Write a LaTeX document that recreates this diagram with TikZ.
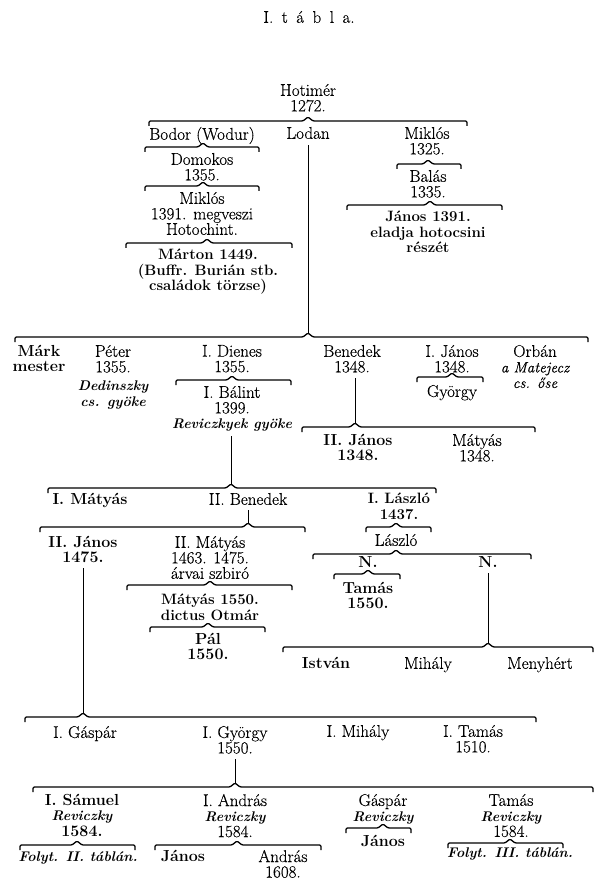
\documentclass[tikz,border=0pt]{standalone}
\usepackage{fontspec}
\newfontfamily\medfam{Latin Modern Roman}[FakeBold=0.35]
% family bracket: name of peak, y, left x, right x, peak x
\newcommand\famline[5]{%
  \draw[brace] (#3,#2+5) -- (#3,#2) -- (#5-5,#2) -- (#5,#2-4)
    -- (#5+5,#2) -- (#4,#2) -- (#4,#2+5);
  \coordinate (#1) at (#5,#2-4);}
\newcommand\itb[1]{{\rmfamily\fontsize{14}{15}\selectfont\bfseries\itshape #1}}
\newcommand\itl[1]{{\fontsize{15}{15}\selectfont\itshape #1}}
\begin{document}
\begin{tikzpicture}[x=1pt, y=-1pt, line width=1pt,
    brace/.style={rounded corners=1.2pt, line width=1.3pt},
    nm/.style={anchor=north, yshift=6.5pt, inner sep=0pt, align=center,
      font=\medfam\fontsize{17}{15.5}\selectfont},
    bnm/.style={nm, font=\rmfamily\fontsize{16}{15.5}\selectfont\bfseries},
    bsm/.style={nm, font=\rmfamily\fontsize{15}{15.5}\selectfont\bfseries}]
\path[fill=white] (0,0) rectangle (608,890);

% title
\node[nm] (title) at (309,17) {I.\hspace{0.5em}t\hspace{0.5em}á\hspace{0.5em}b\hspace{0.5em}l\hspace{0.5em}a.};

% Hotimér and sons
\node[nm] (hotimer) at (308,90) {Hotimér\\1272.};
\famline{kHotimer}{121}{149}{467}{308}
\node[nm] (bodor) at (202,133) {Bodor (Wodur)};
\node[nm] (lodan) at (308,133) {Lodan};
\node[nm] (miklosA) at (427,133) {Miklós\\1325.};

% Bodor branch
\famline{kBodor}{147}{145}{259}{203}
\node[nm] (domokos) at (202,159) {Domokos\\1355.};
\famline{kDomokos}{186}{145}{259}{203}
\node[nm] (miklosB) at (202,198) {Miklós\\1391. megveszi\\Hotochint.};
\famline{kMiklosB}{243}{126}{292}{207}
\node[bsm] (marton) at (208,255) {Márton 1449.\\(Buffr. Burián stb.\\családok törzse)};

% Miklós 1325 branch
\famline{kMiklosA}{164}{397}{461}{428}
\node[nm] (balas) at (428,176) {Balás\\1335.};
\famline{kBalas}{205}{347}{502}{430}
\node[bsm] (janosA) at (428,217) {János 1391.\\eladja hotocsini\\részét};

% Lodan's line
\famline{kLodan}{337}{15}{588}{308}
\draw ([yshift=-6pt]kLodan |- lodan.south) -- (kLodan);
\node[bnm] (mark) at (39,351) {Márk\\mester};
\node[nm] (peter) at (113,351) {Péter\\1355.\\[3pt]\itb{Dedinszky}\\\itb{cs. gyöke}};
\node[nm] (dienes) at (232,351) {I. Dienes\\1355.};
\famline{kDienes}{380}{176}{291}{232}
\node[nm] (balint) at (232,392) {I. Bálint\\1399.\\\itb{Reviczkyek gyöke}};
\node[nm] (benedekA) at (352,351) {Benedek\\1348.};
\node[nm] (janosI) at (452,351) {I. János\\1348.};
\famline{kJanosI}{377}{417}{483}{452}
\node[nm] (gyorgyA) at (452,391) {György};
\node[nm] (orban) at (535,351) {Orbán\\\itl{a Matejecz}\\\itl{cs. őse}};
\famline{kBenedekA}{427}{302}{535}{355}
\draw ([yshift=-5pt]kBenedekA |- benedekA.south) -- (kBenedekA);
\node[bnm] (janosII) at (358,440) {II. János\\1348.};
\node[nm] (matyasA) at (477,440) {Mátyás\\1348.};

% I. Bálint's sons
\famline{kBalint}{488}{48}{436}{231}
\draw ([yshift=-4pt]kBalint |- balint.south) -- (kBalint);
\node[bnm] (matyasI) at (90,499) {I. Mátyás};
\node[nm] (benedekII) at (248,499) {II. Benedek};
\node[bsm] (laszloI) at (399,499) {I. László\\1437.};

% II. Benedek branch
\famline{kBenedekII}{527}{40}{305}{248}
\draw ([yshift=-5pt]kBenedekII |- benedekII.south) -- (kBenedekII);
\node[bnm] (janosIIb) at (83,542) {II. János\\1475.};
\node[nm] (matyasII) at (210,542) {II. Mátyás\\1463. 1475.\\árvai szbiró};
\famline{kMatyasII}{585}{127}{292}{210}
\node[bsm] (matyasB) at (210,600) {Mátyás 1550.\\dictus Otmár};
\famline{kMatyasB}{627}{150}{265}{208}
\node[bnm] (pal) at (208,639) {Pál\\1550.};

% I. László branch
\famline{kLaszloI}{527}{366}{431}{396}
\node[nm] (laszlo) at (396,540) {László};
\famline{kLaszlo}{554}{313}{531}{396}
\node[bnm] (nA) at (368,563) {N.};
\node[bnm] (nB) at (488,563) {N.};
\famline{kNA}{574}{334}{400}{368}
\node[bnm] (tamasA) at (368,588) {Tamás\\1550.};
\famline{kNB}{647}{283}{593}{488}
\draw ([yshift=-5pt]kNB |- nB.south) -- (kNB);
\node[bnm] (istvan) at (326,663) {István};
\node[nm] (mihalyA) at (428,663) {Mihály};
\node[nm] (menyhert) at (540,663) {Menyhért};

% II. János 1475 branch
\famline{kJanosIIb}{717}{25}{536}{83}
\draw ([yshift=-5pt]kJanosIIb |- janosIIb.south) -- (kJanosIIb);
\node[nm] (gasparI) at (85,732) {I. Gáspár};
\node[nm] (gyorgyI) at (235,732) {I. György\\1550.};
\node[nm] (mihalyI) at (358,731) {I. Mihály};
\node[nm] (tamasI) at (473,731) {I. Tamás\\1510.};

% I. György's sons
\famline{kGyorgyI}{787}{33}{593}{235}
\draw ([yshift=-5pt]kGyorgyI |- gyorgyI.south) -- (kGyorgyI);
\node[bnm] (samuel) at (82,800) {I. Sámuel\\\itb{Reviczky}\\1584.};
\node[nm] (andrasI) at (235,800) {I. András\\\itb{Reviczky}\\1584.};
\node[nm] (gasparB) at (383,800) {Gáspár\\\itb{Reviczky}};
\node[nm] (tamasB) at (511,800) {Tamás\\\itb{Reviczky}\\1584.};
\famline{kSamuel}{845}{20}{135}{77}
\node[nm] (folytA) at (78,858) {\itb{Folyt. II. táblán.}};
\famline{kAndrasI}{845}{155}{321}{237}
\node[bnm] (janosB) at (183,856) {János};
\node[nm] (andrasB) at (283,856) {András\\1608.};
\famline{kGasparB}{828}{346}{411}{383}
\node[bnm] (janosC) at (383,841) {János};
\famline{kTamasB}{843}{448}{563}{510}
\node[nm] (folytB) at (510,854) {\itb{Folyt. III. táblán.}};
\end{tikzpicture}
\end{document}
